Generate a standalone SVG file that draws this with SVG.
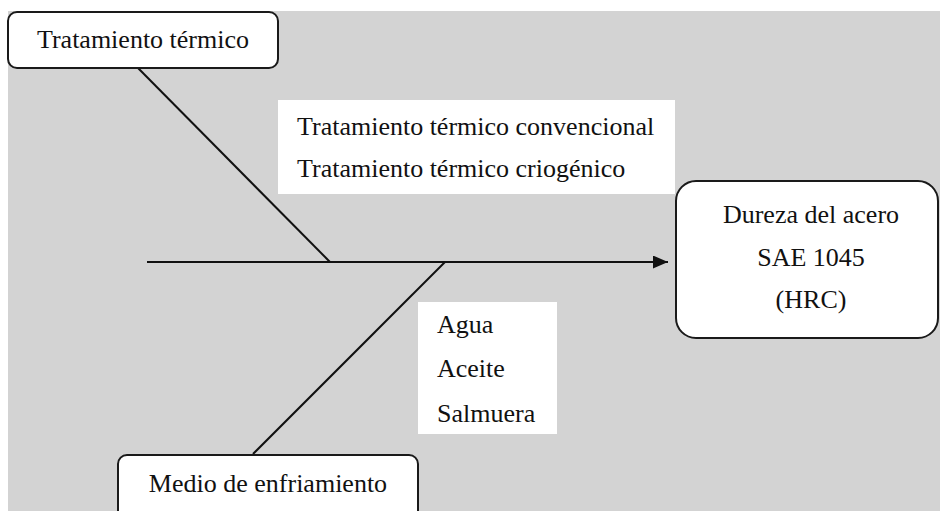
<svg xmlns="http://www.w3.org/2000/svg" width="940" height="511" viewBox="0 0 940 511">
<style>
.box{fill:#fff;stroke:#1a1a1a;stroke-width:2}
.pane{fill:#fff}
.ln{stroke:#111;stroke-width:2;fill:none}
text{font-family:"Liberation Serif","Times New Roman",serif;font-size:26px;fill:#111}
.c{text-anchor:middle}
</style>
<defs>
<marker id="ah" markerWidth="15" markerHeight="13" refX="15" refY="6.5" orient="auto" markerUnits="userSpaceOnUse">
<path d="M0,0 L15,6.5 L0,13 Z" fill="#111"/>
</marker>
</defs>
<rect width="940" height="511" fill="#fff"/>
<rect x="8" y="11" width="932" height="500" fill="#d3d3d3"/>
<g id="connectors">
<line class="ln" x1="147" y1="262" x2="668" y2="262" marker-end="url(#ah)"/>
<line class="ln" x1="138" y1="68" x2="330" y2="262"/>
<line class="ln" x1="445" y1="262" x2="253" y2="454"/>
</g>
<g id="causa1">
<rect class="box" x="8" y="12" width="270" height="56" rx="9"/>
<text class="c" x="143" y="48">Tratamiento térmico</text>
</g>
<g id="sub1">
<rect class="pane" x="278" y="100" width="397" height="94"/>
<text x="297" y="135">Tratamiento térmico convencional</text>
<text x="297" y="177">Tratamiento térmico criogénico</text>
</g>
<g id="efecto">
<rect class="box" x="676" y="181" width="262" height="157" rx="20"/>
<text class="c" x="811" y="223">Dureza del acero</text>
<text class="c" x="811" y="266">SAE 1045</text>
<text class="c" x="811" y="308">(HRC)</text>
</g>
<g id="sub2">
<rect class="pane" x="418" y="302" width="139" height="132"/>
<text x="437" y="333">Agua</text>
<text x="437" y="377">Aceite</text>
<text x="437" y="422">Salmuera</text>
</g>
<g id="causa2">
<rect class="box" x="118" y="455" width="300" height="80" rx="9"/>
<text class="c" x="268" y="492">Medio de enfriamiento</text>
</g>
</svg>
